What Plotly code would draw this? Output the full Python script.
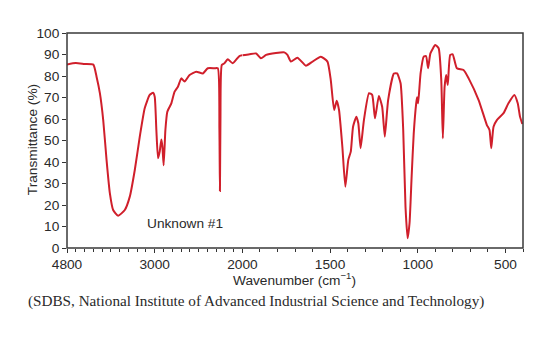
import plotly.graph_objects as go

# IR spectrum (wavenumber in cm^-1, transmittance in %)
wavenumber = [4000, 3900, 3800, 3700, 3663, 3625, 3587, 3549, 3511, 3474, 3417, 3341, 3284,
              3227, 3170, 3114, 3057, 3019, 3000, 2981, 2962, 2943, 2924, 2912, 2898, 2878,
              2856, 2810, 2773, 2735, 2697, 2659, 2602, 2526, 2451, 2394, 2318, 2280, 2262,
              2256, 2250, 2235, 2205, 2167, 2110, 2034, 2000,
              1960, 1922, 1894, 1865, 1809, 1761, 1743, 1723, 1686, 1638, 1600, 1553, 1515,
              1496, 1477, 1462, 1449, 1430, 1413, 1396, 1382, 1369, 1350, 1339, 1326, 1307,
              1278, 1260, 1244, 1222, 1203, 1188, 1169, 1136, 1118, 1098, 1083, 1070, 1058,
              1047, 1035, 1023, 1009, 1004, 998, 984, 966, 953, 941, 928, 900, 881, 866, 857,
              847, 838, 829, 815, 801, 777, 739, 710, 653, 606, 591, 581, 568, 549, 511, 483,
              449, 430, 417, 404]
transmittance = [85.4, 86.0, 85.6, 85.3, 79.7, 72.0, 59.5, 41.0, 25.4, 17.7, 15.0, 17.7, 23.9,
                 36.3, 51.8, 65.0, 71.2, 72.2, 70.4, 54.9, 41.7, 44.8, 50.5, 47.1, 38.5, 54.9,
                 63.4, 67.3, 72.7, 75.0, 78.9, 77.4, 80.5, 82.0, 81.2, 83.6, 83.6, 83.6, 55.0,
                 26.5, 60.0, 85.1, 85.9, 87.8, 85.9, 89.3, 89.6,
                 90.1, 90.5, 88.2, 89.8, 90.7, 91.0, 89.8, 86.7, 88.5, 84.8, 86.7, 89.0, 86.7,
                 78.1, 64.2, 68.5, 64.2, 47.1, 28.5, 41.0, 44.8, 56.4, 61.1, 58.0, 46.4, 59.5,
                 72.0, 71.2, 60.3, 70.7, 65.7, 51.8, 68.8, 81.2, 81.2, 76.6, 54.9, 19.2, 4.5,
                 11.5, 33.2, 53.3, 67.3, 70.1, 67.3, 81.2, 89.0, 89.3, 83.6, 90.5, 94.4, 92.9,
                 78.1, 51.0, 75.0, 80.5, 75.8, 89.8, 90.1, 83.6, 82.8, 78.9, 68.8, 57.2, 54.9,
                 46.4, 56.4, 59.5, 62.7, 67.3, 71.2, 67.3, 61.1, 57.7]

high_ticks = [4000, 3000, 2000]
high_labels = ["4800", "3000", "2000"]
low_ticks = [1500, 1000, 500]
low_labels = ["1500", "1000", "500"]
y_ticks = list(range(0, 101, 10))

hi_w = [w for w in wavenumber if w >= 2000]
hi_t = [t for w, t in zip(wavenumber, transmittance) if w >= 2000]
lo_w = [w for w in wavenumber if w <= 2000]
lo_t = [t for w, t in zip(wavenumber, transmittance) if w <= 2000]

RED = "#d01f2b"
TXT = "#2a2a2a"
FONT = "Liberation Sans, Arial, sans-serif"

fig = go.Figure()
fig.add_trace(go.Scatter(x=hi_w, y=hi_t, xaxis="x", yaxis="y", mode="lines",
                         line=dict(color=RED, width=2, shape="spline", smoothing=0.5),
                         showlegend=False, hoverinfo="skip"))
fig.add_trace(go.Scatter(x=lo_w, y=lo_t, xaxis="x2", yaxis="y", mode="lines",
                         line=dict(color=RED, width=2, shape="spline", smoothing=0.5),
                         showlegend=False, hoverinfo="skip"))

split = 2000 / (2000 + 3200)  # 4000-2000 drawn at half the scale of 2000-400
common_x = dict(ticks="outside", ticklen=4, tickwidth=1, tickcolor="#333",
                showgrid=False, zeroline=False, showline=False,
                tickfont=dict(family=FONT, size=13.7, color=TXT))
minor_x = dict(tickmode="linear", tick0=0, dtick=100, ticks="outside",
               ticklen=2.5, tickcolor="#333")
fig.update_layout(
    width=551, height=339,
    margin=dict(l=67, r=26, t=33, b=91),
    paper_bgcolor="white", plot_bgcolor="white",
    xaxis=dict(domain=[0, split], range=[4000, 2000], tickmode="array",
               tickvals=high_ticks, ticktext=high_labels, anchor="y",
               minor=minor_x, **common_x),
    xaxis2=dict(domain=[split, 1], range=[2000, 400], tickmode="array",
                tickvals=low_ticks, ticktext=low_labels, anchor="y",
                minor=minor_x, **common_x),
    yaxis=dict(range=[0, 100], tickmode="array", tickvals=y_ticks,
               ticks="outside", ticklen=4, tickcolor="#333",
               showgrid=False, zeroline=False, showline=False,
               tickfont=dict(family=FONT, size=13.7, color=TXT)),
    shapes=[dict(type="rect", xref="paper", yref="paper", x0=0, x1=1, y0=0, y1=1,
                 line=dict(color="#3a3a3a", width=1.5))],
    annotations=[
        dict(text="Unknown #1", x=2660, y=11.6, xref="x", yref="y", showarrow=False,
             font=dict(family=FONT, size=13.7, color=TXT)),
        dict(text="Wavenumber (cm<sup>\u22121</sup>)", x=295, y=279, xref="paper", yref="paper",
             showarrow=False, xanchor="center", yanchor="middle",
             font=dict(family=FONT, size=13.7, color=TXT)),
        dict(text="(SDBS, National Institute of Advanced Industrial Science and Technology)",
             x=26, y=301, xref="paper", yref="paper", showarrow=False,
             xanchor="left", yanchor="middle",
             font=dict(family="Liberation Serif, Times New Roman, serif", size=15.2, color=TXT)),
        dict(text="Transmittance (%)", x=32, y=140, xref="paper", yref="paper",
             showarrow=False, xanchor="center", yanchor="middle", textangle=-90,
             font=dict(family=FONT, size=13.7, color=TXT)),
    ],
)

# convert pixel-placed annotations to paper coordinates
pw, ph = 551 - 67 - 26, 339 - 33 - 91
for a in fig.layout.annotations[1:]:
    a.x = (a.x - 67) / pw
    a.y = (339 - 91 - a.y) / ph

fig.write_html("out.html")
